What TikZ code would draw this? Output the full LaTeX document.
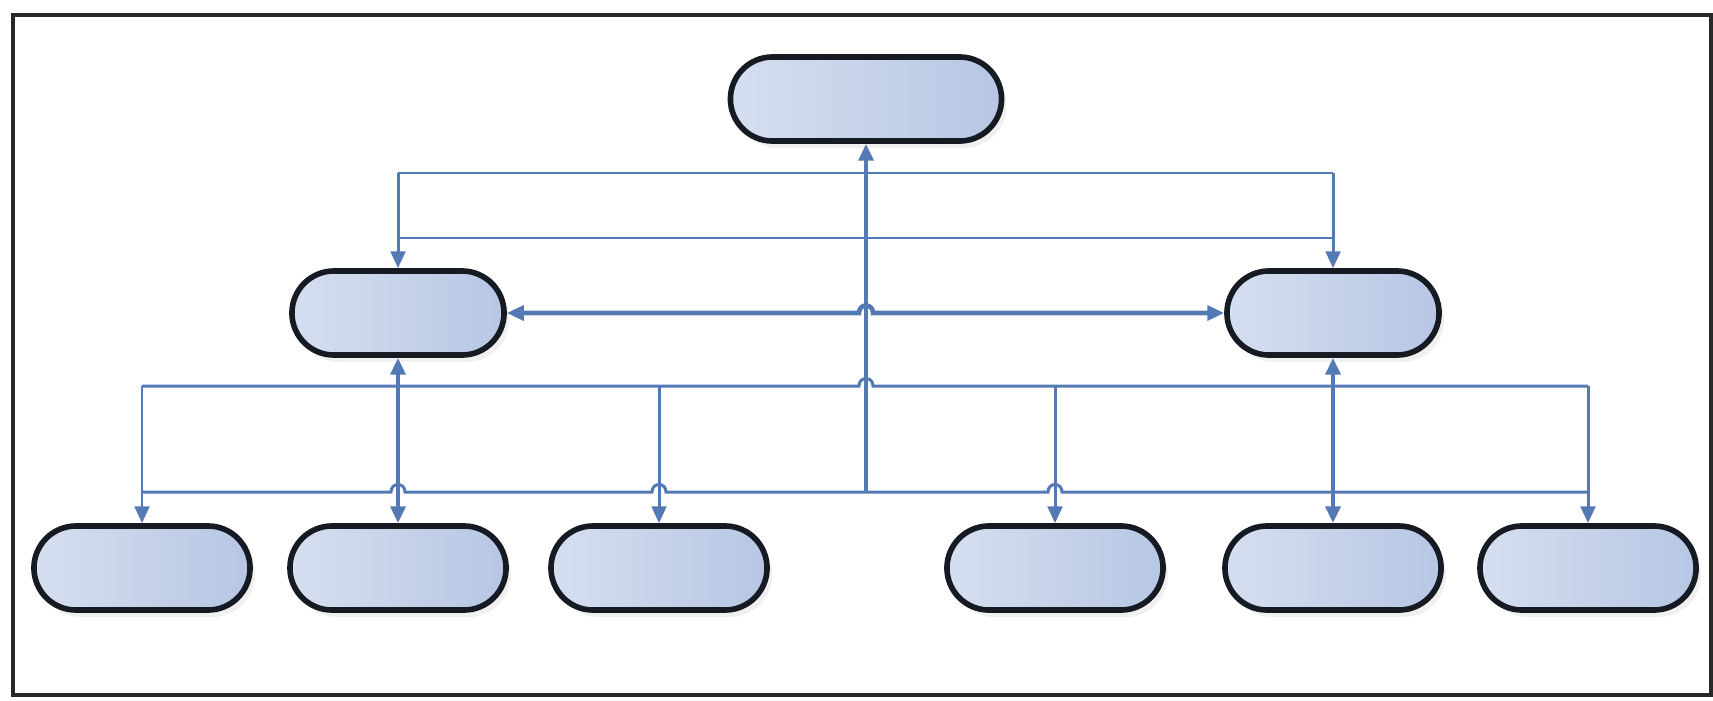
\documentclass[tikz,border=0pt]{standalone}
\usetikzlibrary{arrows.meta}
\usetikzlibrary{shadows}
\definecolor{linkblue}{RGB}{84,122,182}
\definecolor{boxlight}{RGB}{214,223,240}
\definecolor{boxdark}{RGB}{182,198,228}
\definecolor{boxline}{RGB}{22,26,34}
\definecolor{frameline}{RGB}{40,40,42}
\tikzset{
	pill/.style={draw=boxline, line width=1.6pt, rounded corners=0.42cm, minimum height=0.84cm, inner sep=0pt,
		left color=boxlight, right color=boxdark,
		drop shadow={opacity=0.12, shadow xshift=0.05cm, shadow yshift=-0.07cm}},
	link/.style={draw=linkblue, line width=0.85pt},
	trunk/.style={draw=linkblue, line width=1.3pt},
	>={Triangle[length=4.8pt,width=4.2pt]}
}

\begin{document}
\begin{tikzpicture}[x=0.01cm, y=-0.01cm]
	\useasboundingbox (0,0) rectangle (1713,700);

	%outer frame
	\draw[frameline, line width=1.4pt] (13,15) rectangle (1711,695);

	%boxes
	\node[pill, minimum width=2.71cm] (top) at (866,99) {};
	\node[pill, minimum width=2.12cm] (midL) at (398,313) {};
	\node[pill, minimum width=2.12cm] (midR) at (1333,313) {};
	\node[pill, minimum width=2.16cm] (botA) at (142,568) {};
	\node[pill, minimum width=2.16cm] (botB) at (398,568) {};
	\node[pill, minimum width=2.16cm] (botC) at (659,568) {};
	\node[pill, minimum width=2.16cm] (botD) at (1055,568) {};
	\node[pill, minimum width=2.16cm] (botE) at (1333,568) {};
	\node[pill, minimum width=2.16cm] (botF) at (1588,568) {};

	%rows of the bus lines
	\coordinate (rowT) at (0,173); %rowT = top rail
	\coordinate (rowU) at (0,238); %rowU = upper rail
	\coordinate (rowM) at (0,386); %rowM = middle bus
	\coordinate (rowL) at (0,492); %rowL = lower bus

	%top rails down to the middle boxes
	\draw[link] (midL.north |- rowT) -- (midR.north |- rowT);
	\draw[link] (midL.north |- rowU) -- (midR.north |- rowU);
	\draw[link, ->] (midL.north |- rowT) -- (midL.north);
	\draw[link, ->] (midR.north |- rowT) -- (midR.north);

	%trunk up to the top box
	\draw[trunk, ->] (top.south |- rowL) -- (top.south);

	%middle boxes to each other, hopping the trunk
	\draw[trunk, <->] (midL.east) -- (859,313) .. controls (859,303) and (873,303) .. (873,313) -- (midR.west);

	%middle bus, hopping the trunk
	\draw[link] (botA.north |- rowM) -- (859,386) .. controls (859,376) and (873,376) .. (873,386) -- (botF.north |- rowM);
	\draw[link, ->] (botA.north |- rowM) -- (botA.north);
	\draw[link, ->] (botC.north |- rowM) -- (botC.north);
	\draw[link, ->] (botD.north |- rowM) -- (botD.north);
	\draw[link, ->] (botF.north |- rowM) -- (botF.north);

	%lower bus, hopping the drops
	\draw[link] (botA.north |- rowL) -- (391,492) .. controls (391,482) and (405,482) .. (405,492)
		-- (652,492) .. controls (652,482) and (666,482) .. (666,492)
		-- (1048,492) .. controls (1048,482) and (1062,482) .. (1062,492) -- (botF.north |- rowL);

	%middle boxes down to the bottom row
	\draw[trunk, <->] (midL.south) -- (botB.north);
	\draw[trunk, <->] (midR.south) -- (botE.north);

\end{tikzpicture}
\end{document}
